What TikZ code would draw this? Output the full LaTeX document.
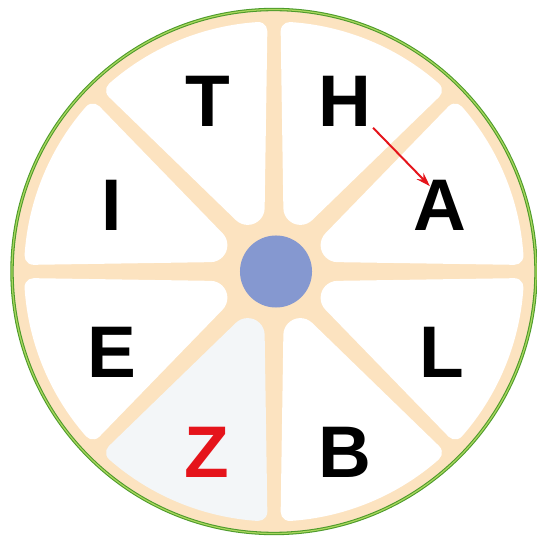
\documentclass[tikz,border=0pt]{standalone}
\usepackage{fontspec}
\setsansfont{Liberation Sans}
\usetikzlibrary{arrows.meta, calc}
\definecolor{cring}{HTML}{4C9A2A}
\definecolor{cringlight}{HTML}{A8D65C}
\definecolor{ctan}{HTML}{FCE3C0}
\definecolor{chub}{HTML}{8598D0}
\definecolor{cshade}{HTML}{F3F6F8}
\definecolor{cred}{HTML}{E5141B}
\tikzset{
  every picture/.style={x=0.025cm, y=0.025cm},
  letter/.style={font=\sffamily\bfseries\fontsize{52}{52}\selectfont, inner sep=1pt},
  sector/.style={fill=#1},
  sector/.default=white,
  rim/.style={draw=cring, double=cringlight, double distance=0.9pt, line width=0.75pt},
  hint/.style={-{Stealth[length=10pt, width=6.5pt]}, draw=cred, line width=1.4pt},
}

\begin{document}
\begin{tikzpicture}
  \useasboundingbox[fill=white] (0,0) rectangle (537,539);
  \coordinate (O) at (274,267.5);

  % the wheel: tan disc, eight white sectors with rounded corners, blue hub
  \fill[ctan] (O) circle[radius=262];
  \foreach \a/\c in {0/white, 45/white, 90/white, 135/white, 180/white, 225/cshade, 270/white, 315/white} {
    \coordinate (t1) at ($(O)+(\a+8.4:64)$);
    \coordinate (t2) at ($(O)+(\a+36.6:64)$);
    \coordinate (u1) at ($(O)+(\a+1.59:240.44)$);
    \fill[sector=\c] (t1) -- (u1)
      arc[start angle=\a-90.87, end angle=\a+3.73, radius=9]
      arc[start angle=\a+3.73, end angle=\a+41.27, radius=250]
      arc[start angle=\a+41.27, end angle=\a+135.87, radius=9]
      -- (t2) arc[start angle=\a+135.97, end angle=\a+269.03, radius=17] -- cycle;
  }
  \node[circle, fill=chub, inner sep=0pt, minimum size=1.8cm] (hub) at ($(O)+(2,0)$) {};
  \draw[rim] (O) circle[radius=262];

  % letters, one per sector
  \foreach \n/\x/\y in {T/208/438, H/345/438, A/440/334, I/112/334, E/112/187, L/442/187, B/345/87} {
    \node[letter] (\n) at (\x,\y) {\n};
  }
  \node[letter, text=cred] (Z) at (207,87) {Z};
  \draw[hint] (H.south east) -- ([shift={(18,-8)}]A.north west);
\end{tikzpicture}
\end{document}
